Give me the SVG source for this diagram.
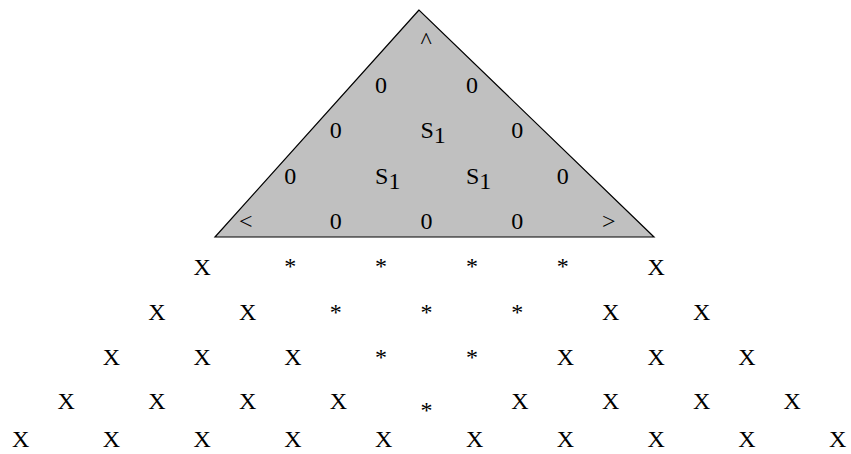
<svg xmlns="http://www.w3.org/2000/svg" width="851" height="454" viewBox="0 0 851 454">
<style>
.t{font-family:'Liberation Serif','Times New Roman',serif;font-size:24px;fill:#000}
.tri{fill:#c0c0c0;stroke:#000;stroke-width:1.2}
</style>
<rect width="851" height="454" fill="#fff"/>
<g class="t" font-family="Liberation Serif, Times New Roman, serif" font-size="24" fill="#000">
<g id="triangle">
<polygon class="tri" points="419,10 215,237 654,237" fill="#c0c0c0" stroke="#000" stroke-width="1.2"/>
<text x="420.5" y="48">^</text>
<text x="375.1" y="93">0</text><text x="465.9" y="93">0</text>
<text x="329.7" y="138">0</text><text x="420.5" y="138">S<tspan dy="5">1</tspan></text><text x="511.3" y="138">0</text>
<text x="284.3" y="184">0</text><text x="375.1" y="184">S<tspan dy="5">1</tspan></text><text x="465.9" y="184">S<tspan dy="5">1</tspan></text><text x="556.7" y="184">0</text>
<text x="239" y="229">&lt;</text><text x="329.7" y="229">0</text><text x="420.5" y="229">0</text><text x="511.3" y="229">0</text><text x="602.1" y="229">&gt;</text>
</g>
<g id="connectors"/>
<g id="row1">
<text x="193.6" y="275">X</text><text x="284.3" y="274">*</text><text x="375.1" y="274">*</text><text x="465.9" y="274">*</text><text x="556.7" y="274">*</text><text x="647.5" y="275">X</text>
</g>
<g id="row2">
<text x="148.2" y="320">X</text><text x="239" y="320">X</text><text x="329.7" y="320">*</text><text x="420.5" y="320">*</text><text x="511.3" y="320">*</text><text x="602.1" y="320">X</text><text x="692.9" y="320">X</text>
</g>
<g id="row3">
<text x="102.8" y="365">X</text><text x="193.6" y="365">X</text><text x="284.3" y="365">X</text><text x="375.1" y="365">*</text><text x="465.9" y="365">*</text><text x="556.7" y="365">X</text><text x="647.5" y="365">X</text><text x="738.2" y="365">X</text>
</g>
<g id="row4">
<text x="57.4" y="409">X</text><text x="148.2" y="409">X</text><text x="239" y="409">X</text><text x="329.7" y="409">X</text><text x="420.5" y="418">*</text><text x="511.3" y="409">X</text><text x="602.1" y="409">X</text><text x="692.9" y="409">X</text><text x="783.6" y="409">X</text>
</g>
<g id="row5">
<text x="12" y="447">X</text><text x="102.8" y="447">X</text><text x="193.6" y="447">X</text><text x="284.3" y="447">X</text><text x="375.1" y="447">X</text><text x="465.9" y="447">X</text><text x="556.7" y="447">X</text><text x="647.5" y="447">X</text><text x="738.2" y="447">X</text><text x="829" y="447">X</text>
</g>
</g>
</svg>
